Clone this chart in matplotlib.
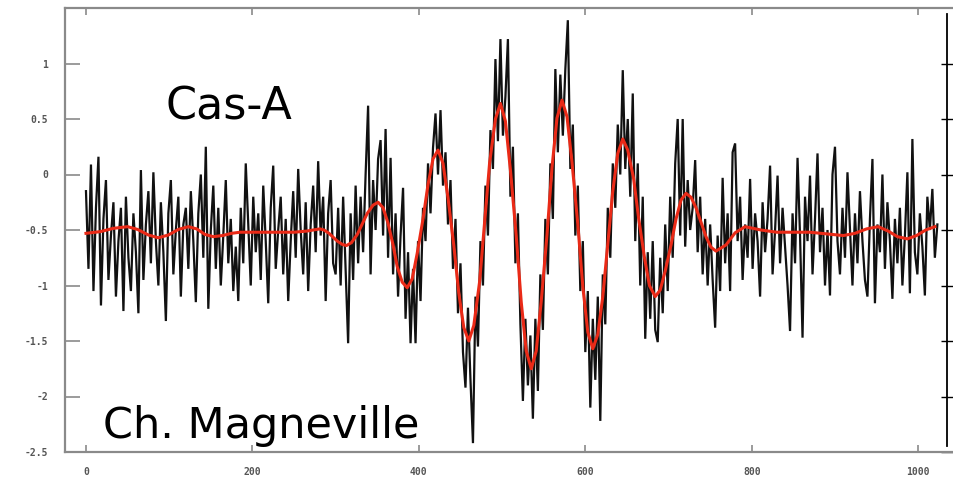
import numpy as np
import matplotlib
matplotlib.use("Agg")
import matplotlib.pyplot as plt

# raw signal, one value every 3 samples (0 .. 1023)
signal = [
    -0.15, -0.85, 0.09, -1.05, -0.3, 0.16, -1.18, -0.4, -0.05, -0.95, -0.55, -0.25, -1.1, -0.6, -0.3, -1.23, -0.2, -0.75, -1.05, -0.35,
    -0.7, -1.25, 0.04, -0.95, -0.45, -0.15, -0.8, 0.02, -0.6, -1.0, -0.25, -0.7, -1.32, -0.35, -0.05, -0.9, -0.5, -0.2, -1.1, -0.45,
    -0.3, -0.85, -0.15, -0.6, -1.15, -0.35, 0.0, -0.75, 0.25, -1.21, -0.5, -0.1, -0.85, -0.3, -1.0, -0.55, -0.05, -0.8, -0.4, -1.05,
    -0.65, -1.14, -0.3, -0.8, 0.1, -0.45, -1.0, -0.2, -0.7, -0.35, -0.95, -0.1, -0.6, -1.16, -0.3, 0.08, -0.85, -0.5, -0.2, -0.9,
    -0.4, -1.14, -0.6, -0.15, -0.75, 0.05, -0.5, -0.9, -0.25, -1.05, -0.45, -0.1, -0.7, 0.12, -0.55, -0.2, -1.14, -0.35, -0.05, -0.8,
    -0.9, -0.3, -1.0, -0.2, -0.85, -1.52, -0.35, -0.95, -0.1, -0.8, -0.2, -0.7, 0.0, 0.62, -0.9, -0.05, -0.5, 0.14, 0.31, -0.55,
    0.41, -0.75, 0.15, -0.9, -0.35, -1.1, -0.55, -0.12, -1.3, -0.7, -1.52, -0.85, -1.52, -0.6, -1.14, -0.3, -0.6, 0.1, -0.35, 0.24,
    0.55, 0.0, 0.58, -0.1, 0.2, -0.45, -0.05, -0.85, -0.4, -1.25, -0.8, -1.6, -1.92, -1.2, -1.85, -2.42, -1.1, -1.55, -0.6, -1.0,
    -0.1, -0.55, 0.4, 0.05, 1.04, 0.3, 1.22, 0.35, 0.7, 1.22, -0.2, 0.25, -0.8, -0.35, -1.35, -2.04, -1.3, -1.9, -1.45, -2.2,
    -1.3, -1.95, -0.9, -1.4, -0.4, -0.9, 0.1, -0.4, 0.95, 0.2, 0.9, 0.35, 0.95, 1.39, 0.05, 0.45, -0.55, -0.1, -1.05, -0.6,
    -1.6, -1.05, -2.1, -1.3, -1.85, -1.1, -2.22, -0.9, -1.35, -0.3, -0.75, 0.1, -0.3, 0.45, 0.0, 0.94, 0.05, 0.5, -0.2, 0.73,
    -0.6, 0.1, -1.0, -0.2, -1.48, -0.7, -1.3, -0.6, -1.4, -1.51, -0.75, -1.25, -0.45, -1.05, -0.2, -0.75, 0.1, 0.5, -0.55, 0.5,
    -0.65, -0.05, -0.5, -0.3, 0.13, -0.7, -0.2, -0.9, -0.4, -1.0, -0.45, -0.95, -1.38, -0.55, -1.05, -0.03, -0.8, -0.35, -1.05, 0.2,
    0.28, -0.6, -0.2, -0.95, -0.45, -0.75, -0.04, -0.85, -0.35, -0.6, -1.1, -0.25, -0.7, -0.4, 0.08, -0.9, -0.5, -0.01, -0.8, -0.3,
    -0.65, -1.0, -1.41, -0.35, -0.8, 0.15, -0.55, -1.47, -0.2, -0.6, -0.01, -0.9, -0.4, 0.19, -0.7, -0.3, -1.0, -0.5, -1.09, 0.0,
    0.25, -0.6, -0.9, -0.3, -0.75, 0.02, -0.5, -1.0, -0.35, -0.8, -0.15, -0.6, -0.95, -1.1, -0.4, 0.14, -1.16, -0.45, -0.7, 0.0,
    -0.85, -0.25, -0.6, -1.12, -0.4, -0.8, -0.3, -1.0, -0.55, 0.02, -1.07, 0.32, -0.7, -0.9, -0.35, -0.65, -1.09, -0.2, -0.5, -0.13,
    -0.75, -0.45,
]
sample = np.arange(0, 1024, 3)

# smoothed fit (red)
fit_x = [
    0, 17, 33, 50, 62, 75, 87, 99, 111, 123, 133, 143, 153, 164, 175, 185, 220, 250, 265,
    281, 286, 292, 297, 302, 308, 313, 319, 326, 332, 338, 345, 351, 357, 363, 369, 374, 380,
    386, 392, 398, 405, 411, 417, 423, 429, 435, 442, 448, 454, 460, 466, 473, 479, 485, 492,
    498, 504, 510, 517, 523, 529, 535, 541, 547, 554, 560, 566, 572, 578, 584, 591, 597, 603,
    609, 615, 621, 627, 633, 639, 645, 651, 658, 664, 671, 677, 684, 690, 696, 703, 709, 715,
    721, 727, 733, 739, 745, 751, 757, 769, 780, 792, 811, 830, 870, 890, 910, 924, 938, 952,
    964, 975, 987, 998, 1009, 1020,
]
fit_y = [
    -0.53, -0.515, -0.485, -0.47, -0.495, -0.545, -0.57, -0.545, -0.495, -0.47, -0.49, -0.54, -0.56, -0.55, -0.53, -0.52, -0.52, -0.52, -0.51,
    -0.49, -0.50, -0.53, -0.565, -0.60, -0.63, -0.64, -0.614, -0.54, -0.445, -0.35, -0.276, -0.25, -0.30, -0.44, -0.635, -0.83, -0.97,
    -1.02, -0.94, -0.71, -0.40, -0.09, 0.14, 0.22, 0.10, -0.21, -0.64, -1.07, -1.38, -1.50, -1.36, -0.965, -0.43, 0.105, 0.50,
    0.64, 0.48, 0.04, -0.555, -1.15, -1.59, -1.75, -1.59, -1.145, -0.54, 0.065, 0.51, 0.67, 0.52, 0.11, -0.45, -1.01, -1.42,
    -1.57, -1.44, -1.10, -0.625, -0.15, 0.19, 0.32, 0.22, -0.035, -0.39, -0.745, -1.0, -1.10, -1.04, -0.87, -0.635, -0.40, -0.23,
    -0.17, -0.205, -0.30, -0.43, -0.56, -0.655, -0.69, -0.635, -0.525, -0.47, -0.50, -0.52, -0.52, -0.535, -0.55, -0.53, -0.49, -0.47,
    -0.51, -0.56, -0.58, -0.55, -0.50, -0.47,
]

x_ticks = [0, 200, 400, 600, 800, 1000]
y_ticks = [-2.5, -2, -1.5, -1, -0.5, 0, 0.5, 1]
y_labels = ["-2.5", "-2", "-1.5", "-1", "-0.5", "0", "0.5", "1"]

frame = "#8a8a8a"
fig = plt.figure(figsize=(9.54, 4.78), dpi=100)
ax = fig.add_axes([65 / 954, 26 / 478, 889 / 954, 444 / 478])

ax.plot(sample, signal, color="#111111", lw=1.6, solid_joinstyle="miter")
ax.plot(fit_x, fit_y, color="#ea2a17", lw=2.2)

ax.set_xlim(-25.2, 1043)
ax.set_ylim(-2.5, 1.5)
ax.set_xticks(x_ticks)
ax.set_xticklabels([str(v) for v in x_ticks])
ax.set_yticks(y_ticks)
ax.set_yticklabels(y_labels)

for side in ["left", "top", "bottom"]:
    ax.spines[side].set_color(frame)
    ax.spines[side].set_linewidth(1.6)
ax.spines["right"].set_visible(False)

ax.tick_params(axis="y", direction="in", length=11, width=1.2, color=frame,
               labelsize=7, labelcolor="#555555", pad=12)
ax.tick_params(axis="x", direction="in", length=5, width=1.2, color=frame,
               top=True, labelsize=7, labelcolor="#555555", pad=11)
for lab in ax.get_xticklabels() + ax.get_yticklabels():
    lab.set_family("DejaVu Sans Mono")
    lab.set_fontweight("bold")

# black axis line on the right
sec = ax.secondary_yaxis(0.9925)
sec.set_yticks(y_ticks)
sec.tick_params(direction="inout", length=8, width=1.0, color="black", labelright=False)
sec.spines["right"].set_color("black")
sec.spines["right"].set_linewidth(1.3)
sec.spines["right"].set_bounds(-2.45, 1.45)

ax.text(96, 0.50, "Cas-A", fontsize=32, family="DejaVu Sans", ha="left", va="baseline")
ax.text(20, -2.37, "Ch. Magneville", fontsize=31, family="DejaVu Sans", ha="left", va="baseline")

fig.savefig("out.png", dpi=100)
